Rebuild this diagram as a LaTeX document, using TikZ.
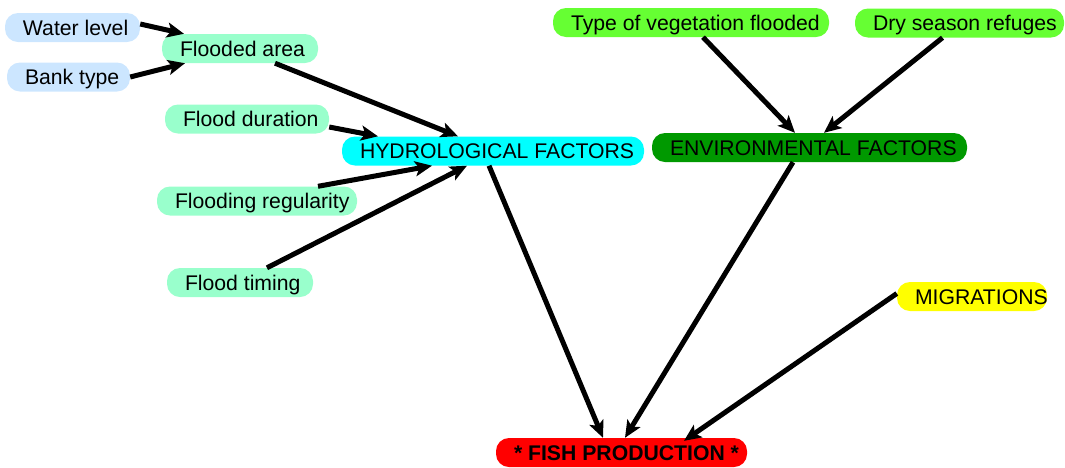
\documentclass[tikz,border=0pt]{standalone}
\usepackage{fontspec}
\setmainfont{Liberation Sans}
\usetikzlibrary{arrows.meta}
\definecolor{lblue}{RGB}{204,230,255}
\definecolor{mint}{RGB}{153,255,204}
\definecolor{aqua}{RGB}{0,255,255}
\definecolor{dgreen}{RGB}{0,153,0}
\definecolor{lgreen}{RGB}{102,255,51}
\definecolor{yel}{RGB}{255,255,0}
\definecolor{rd}{RGB}{255,0,0}
\newcommand{\cmtxt}[2]{\makebox[#1pt][l]{\hspace*{18pt}#2}}

\begin{document}
\begin{tikzpicture}[x=1pt,y=-1pt,
concept/.style={rounded corners=13pt, inner xsep=0pt, inner ysep=0pt, minimum height=29pt,
  text height=15pt, text depth=0pt, font=\fontsize{21.2}{25}\selectfont},
link/.style={line width=5pt, -{Stealth[length=17pt,width=15pt,inset=4pt]}},]
\useasboundingbox (0,0) rectangle (1065,467);

\node[concept, fill=lblue] (wl) at (72.5,27.5) {\cmtxt{135}{Water level}};
\node[concept, fill=lblue] (bt) at (68.5,77) {\cmtxt{123}{Bank type}};
\node[concept, fill=mint] (fa) at (240,48.5) {\cmtxt{156}{Flooded area}};
\node[concept, fill=mint] (fd) at (247,119) {\cmtxt{164}{Flood duration}};
\node[concept, fill=mint] (fr) at (257,201) {\cmtxt{200}{Flooding regularity}};
\node[concept, fill=mint] (ft) at (240,282.5) {\cmtxt{146}{Flood timing}};
\node[concept, fill=aqua] (hf) at (493,151) {\cmtxt{302}{HYDROLOGICAL FACTORS}};
\node[concept, fill=dgreen] (ef) at (809.5,147.5) {\cmtxt{315}{ENVIRONMENTAL FACTORS}};
\node[concept, fill=lgreen] (tv) at (691,22.5) {\cmtxt{276}{Type of vegetation flooded}};
\node[concept, fill=lgreen] (ds) at (959.5,23) {\cmtxt{209}{Dry season refuges}};
\node[concept, fill=yel] (mg) at (972,296.5) {\cmtxt{150}{MIGRATIONS}};
\node[concept, fill=rd, font=\fontsize{21.2}{25}\selectfont\bfseries] (fp) at (621.5,452.5) {\cmtxt{251}{* FISH PRODUCTION *}};

\draw[link] ([yshift=3.5pt]wl.east) -- ([xshift=-56pt]fa.north);
\draw[link] (bt.east) -- ([xshift=-55pt]fa.south);
\draw[link] ([xshift=35pt]fa.south) -- ([xshift=-35pt]hf.north);
\draw[link] ([yshift=-8pt]fd.east) -- ([xshift=-115pt]hf.north);
\draw[link] ([xshift=61pt]fr.north) -- ([xshift=-61pt]hf.south);
\draw[link] ([xshift=27pt]ft.north) -- ([xshift=-26pt]hf.south);
\draw[link] ([xshift=-4pt]hf.south) -- ([xshift=-18.5pt]fp.north);
\draw[link] ([xshift=-16.5pt]ef.south) -- ([xshift=3.5pt]fp.north);
\draw[link] ([yshift=3pt]mg.west) -- ([xshift=62.5pt,yshift=-3pt]fp.north);
\draw[link] ([xshift=12pt]tv.south) -- ([xshift=-14.5pt]ef.north);
\draw[link] ([xshift=-17pt]ds.south) -- ([xshift=14.5pt]ef.north);

\end{tikzpicture}
\end{document}
